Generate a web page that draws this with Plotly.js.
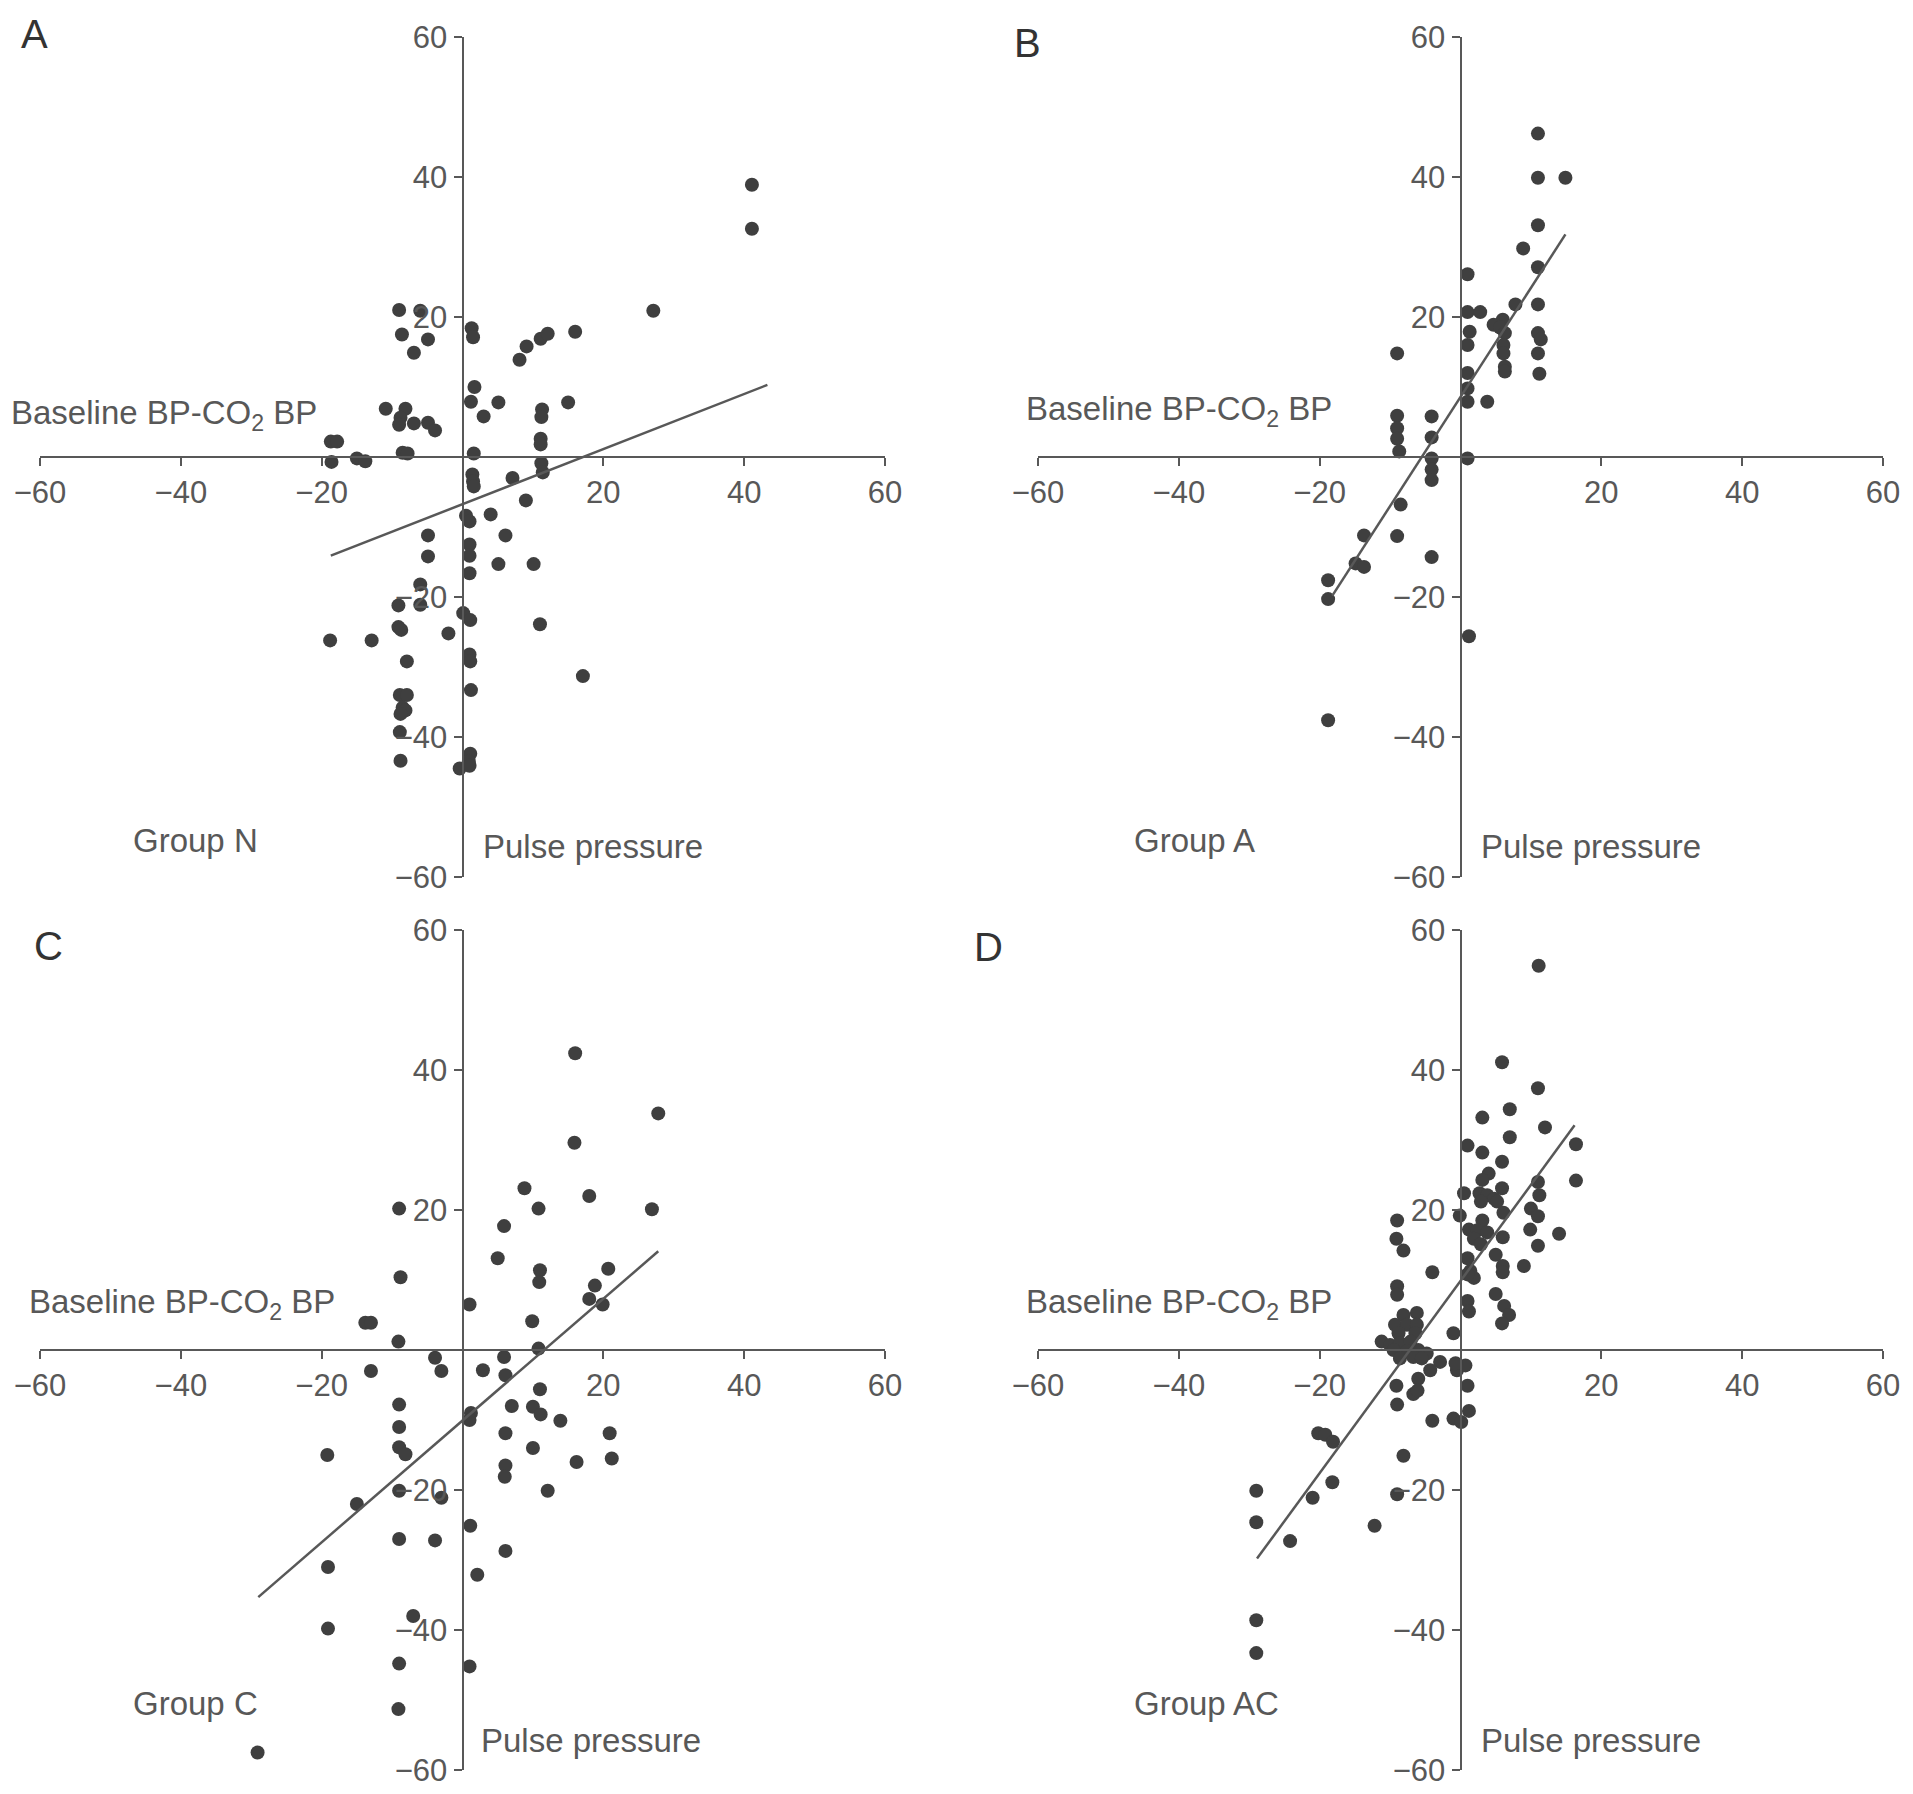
<!DOCTYPE html>
<html>
<head>
<meta charset="utf-8">
<script src="https://cdn.plot.ly/plotly-3.0.1.min.js"></script>
<style>body{margin:0;background:#fff}</style>
</head>
<body>
<div id="chart" style="width:1913px;height:1794px"></div>
<script>
// Group N (A)
var aX = [41.1, 41.1, 27.1, -9.0, -6.0, -8.6, -4.9, -6.9, 1.3, 1.5, 8.1, 9.1, 11.1, 12.1, 16.0, 1.7, 1.2, 5.1, 3.0, 15.0, 11.3, 11.2, 11.1, 11.1, -10.9, -8.1, -8.8, -9.0, -6.9, -4.9, -3.9, -18.7, -17.8, -18.6, -15.0, -13.8, -8.5, -7.8, 1.6, 11.2, 11.4, 1.4, 1.5, 1.6, 7.1, 9.0, 4.0, 0.5, 1.0, 6.1, -4.9, 1.0, 1.0, -4.9, 5.1, 10.1, 1.0, -6.0, -6.0, -9.1, 0.1, 1.1, -9.1, -8.7, -2.0, 11.0, -18.8, -12.9, 1.0, 1.1, -7.9, 17.1, 1.2, -8.9, -7.9, -8.5, -8.1, -8.8, -8.9, 1.1, 0.9, -8.8, -0.4, 1.0];
var aY = [38.9, 32.6, 20.9, 21.0, 20.9, 17.5, 16.8, 14.9, 18.4, 17.1, 13.9, 15.8, 16.9, 17.6, 17.9, 10.0, 7.9, 7.8, 5.8, 7.8, 6.8, 5.7, 2.6, 1.8, 6.9, 6.9, 5.6, 4.6, 4.8, 4.9, 3.8, 2.2, 2.2, -0.7, -0.2, -0.6, 0.6, 0.5, 0.5, -0.9, -2.2, -2.5, -3.5, -4.2, -3.0, -6.2, -8.2, -8.4, -9.2, -11.2, -11.2, -12.5, -14.1, -14.2, -15.3, -15.3, -16.6, -18.2, -21.1, -21.2, -22.3, -23.3, -24.3, -24.7, -25.2, -23.9, -26.2, -26.2, -28.2, -29.2, -29.2, -31.3, -33.3, -34.0, -34.0, -35.8, -36.2, -36.7, -39.3, -42.4, -43.5, -43.4, -44.5, -44.1];
var fitAX = [-18.7, 43.3];
var fitAY = [-14.1, 10.3];

// Group A (B)
var bX = [11.0, 11.0, 14.9, 11.0, 8.9, 11.0, 1.0, 7.8, 11.0, 1.0, 2.8, 4.7, 6.0, 5.6, 6.3, 1.3, 1.0, 11.0, 11.4, 6.1, 6.1, 11.0, -9.0, 6.3, 6.3, 1.0, 11.2, 1.0, 1.0, 3.8, -9.0, -4.1, -9.0, -9.0, -4.1, -8.7, 1.0, -4.1, -4.1, -4.1, -8.5, -13.7, -9.0, -4.1, -14.9, -13.7, -18.8, -18.8, 1.2, -18.8];
var bY = [46.2, 39.9, 39.9, 33.1, 29.8, 27.1, 26.1, 21.8, 21.8, 20.7, 20.7, 18.9, 19.6, 18.5, 17.7, 17.9, 16.0, 17.7, 16.8, 16.0, 14.8, 14.8, 14.8, 12.9, 12.2, 12.0, 11.9, 9.8, 7.9, 7.9, 5.9, 5.8, 4.1, 2.6, 2.8, 0.8, -0.2, -0.2, -1.8, -3.3, -6.8, -11.2, -11.3, -14.3, -15.2, -15.7, -17.6, -20.3, -25.6, -37.6];
var fitBX = [-18.2, 14.9];
var fitBY = [-19.8, 31.8];

// Group C (C)
var cX = [16.0, 27.8, 15.9, 8.8, 18.0, 10.8, -9.0, 26.9, 5.9, 5.0, 11.0, 10.9, 20.7, 18.8, -8.8, 18.0, 19.9, 1.0, 9.9, -13.8, -13.0, -9.1, 10.8, -3.9, 5.9, -3.0, -13.0, 2.9, 6.1, 11.0, -9.0, 7.0, 10.0, 11.1, 1.2, 1.0, 13.9, -9.0, 6.1, 20.9, -9.0, -8.1, -19.2, 10.0, 16.2, 21.2, 6.1, 6.0, 12.1, -9.0, -3.0, -15.0, 1.1, -9.0, -3.9, 6.1, -19.1, 2.1, -7.0, -19.1, -9.0, 1.0, -9.1, -29.1];
var cY = [42.4, 33.8, 29.6, 23.1, 22.0, 20.2, 20.2, 20.1, 17.7, 13.1, 11.4, 9.7, 11.6, 9.2, 10.4, 7.3, 6.5, 6.5, 4.1, 3.9, 3.9, 1.2, 0.2, -1.1, -1.0, -3.0, -3.0, -2.9, -3.6, -5.6, -7.8, -8.0, -8.1, -9.2, -9.0, -10.0, -10.1, -11.0, -11.9, -11.9, -13.9, -14.9, -15.0, -14.0, -16.0, -15.5, -16.5, -18.1, -20.1, -20.1, -21.1, -22.0, -25.1, -27.0, -27.2, -28.7, -31.0, -32.1, -38.0, -39.8, -44.8, -45.2, -51.3, -57.5];
var fitCX = [-29.0, 27.8];
var fitCY = [-35.3, 14.1];

// Group AC (D)
var dX = [11.1, 5.9, 11.0, 7.0, 3.1, 12.0, 7.0, 1.0, 16.4, 3.1, 5.9, 4.0, 3.1, 11.0, 16.4, 5.9, 0.5, 2.7, 3.8, 4.8, 11.2, 2.9, 5.2, 6.1, 10.0, 11.0, -0.1, 3.1, 1.2, 2.4, 3.8, 1.9, 2.9, 6.0, 9.9, 14.0, 11.0, 5.0, 1.0, 6.0, 6.0, 9.0, 1.4, 1.9, 1.0, -9.0, -9.1, -8.1, -4.0, -9.0, -9.0, 5.0, 1.0, 1.2, 6.2, 6.9, 5.9, -8.1, -6.2, -9.3, -7.6, -6.2, -8.8, -6.4, -1.0, -11.2, -10.0, -8.6, -7.1, -9.5, -7.6, -6.0, -4.8, -8.6, -6.7, -5.5, -2.9, -4.3, -0.5, 0.7, -0.7, -6.0, 1.0, -9.1, -6.7, -6.1, -9.0, 1.2, -4.0, -1.0, 0.1, -20.2, -19.2, -18.1, -8.1, -18.2, -21.0, -9.0, -29.0, -29.0, -12.2, -24.2, -29.0, -29.0];
var dY = [54.9, 41.1, 37.4, 34.4, 33.2, 31.8, 30.4, 29.2, 29.4, 28.2, 26.9, 25.2, 24.3, 24.0, 24.2, 23.1, 22.4, 22.4, 22.1, 21.6, 22.1, 21.2, 21.2, 19.6, 20.2, 19.1, 19.2, 18.5, 17.2, 17.1, 16.8, 15.9, 15.1, 16.1, 17.2, 16.6, 14.9, 13.6, 13.1, 12.0, 11.1, 12.0, 11.3, 10.3, 10.8, 18.5, 15.9, 14.2, 11.1, 9.1, 7.9, 8.0, 7.0, 5.5, 6.3, 5.0, 3.8, 5.0, 5.3, 3.6, 3.6, 3.6, 2.4, 2.4, 2.4, 1.2, 0.7, 1.0, 1.2, 0.0, -0.2, 0.0, -0.5, -1.2, -1.0, -1.2, -1.7, -2.9, -2.9, -2.2, -1.9, -4.1, -5.1, -5.1, -6.3, -5.8, -7.8, -8.7, -10.1, -9.8, -10.3, -11.9, -12.1, -13.1, -15.1, -18.9, -21.1, -20.6, -20.1, -24.6, -25.1, -27.3, -38.6, -43.3];
var fitDX = [-28.9, 16.2];
var fitDY = [-29.8, 32.1];

var tickVals = [-60, -40, -20, 20, 40, 60];
var panelLetters = ['A', 'B', 'C', 'D'];
var groupNames = ['Group N', 'Group A', 'Group C', 'Group AC'];
var yLabel = 'Baseline BP-CO<sub>2</sub> BP';
var xLabel = 'Pulse pressure';

var W = 1913, H = 1794;
function px(x) { return x / W; }
function py(y) { return 1 - y / H; }

var FONT = 'Liberation Sans, Arial, Helvetica, sans-serif';
var GREY = '#585858';
var DOT = '#3f3f3f';

// pixel boxes of each panel's plotting area: [left, right, top, bottom]
var boxes = [
    [40, 885, 37, 877],
    [1038, 1883, 37, 877],
    [40, 885, 930, 1770],
    [1038, 1883, 930, 1770]
];

var series = [
    [aX, aY, fitAX, fitAY],
    [bX, bY, fitBX, fitBY],
    [cX, cY, fitCX, fitCY],
    [dX, dY, fitDX, fitDY]
];

var traces = [];
var layout = {
    width: W,
    height: H,
    margin: {l: 0, r: 0, t: 0, b: 0},
    paper_bgcolor: '#ffffff',
    plot_bgcolor: 'rgba(0,0,0,0)',
    showlegend: false,
    font: {family: FONT, color: GREY},
    annotations: []
};

function axisBase(range) {
    return {
        range: range,
        anchor: 'free',
        tickvals: tickVals,
        showline: true,
        linecolor: GREY,
        linewidth: 2,
        ticks: 'outside',
        ticklen: 8,
        tickwidth: 2,
        tickcolor: GREY,
        showgrid: false,
        zeroline: false,
        fixedrange: true,
        tickfont: {family: FONT, size: 31, color: GREY}
    };
}

for (var i = 0; i < 4; i++) {
    var b = boxes[i];
    var sfx = i === 0 ? '' : String(i + 1);
    var xd = [px(b[0]), px(b[1])];
    var yd = [py(b[3]), py(b[2])];

    var xa = axisBase([-60, 60]);
    xa.domain = xd;
    xa.position = (yd[0] + yd[1]) / 2;
    var ya = axisBase([-60, 60]);
    ya.domain = yd;
    ya.position = (xd[0] + xd[1]) / 2;
    layout['xaxis' + sfx] = xa;
    layout['yaxis' + sfx] = ya;

    var s = series[i];
    traces.push({
        x: s[0], y: s[1],
        xaxis: 'x' + sfx, yaxis: 'y' + sfx,
        type: 'scatter', mode: 'markers',
        marker: {color: DOT, size: 14},
        cliponaxis: false,
        hoverinfo: 'skip'
    });
    traces.push({
        x: s[2], y: s[3],
        xaxis: 'x' + sfx, yaxis: 'y' + sfx,
        type: 'scatter', mode: 'lines',
        line: {color: GREY, width: 2.5},
        hoverinfo: 'skip'
    });
}

// text positions in pixels: [x, y]
var letterPos = [[19, 34], [1012, 43], [32, 946], [972, 947]];
var yLabelPos = [[9, 415], [1024, 411], [27, 1304], [1024, 1304]];
var groupPos = [[131, 840], [1132, 840], [131, 1703], [1132, 1703]];
var xLabelPos = [[481, 847], [1479, 847], [479, 1740], [1479, 1740]];

function addText(text, pos, size, color) {
    layout.annotations.push({
        text: text,
        xref: 'paper', yref: 'paper',
        x: px(pos[0]), y: py(pos[1]),
        xanchor: 'left', yanchor: 'middle',
        showarrow: false,
        font: {family: FONT, size: size, color: color}
    });
}

for (var j = 0; j < 4; j++) {
    addText(panelLetters[j], letterPos[j], 40, '#333333');
    addText(yLabel, yLabelPos[j], 33, GREY);
    addText(groupNames[j], groupPos[j], 33, GREY);
    addText(xLabel, xLabelPos[j], 33, GREY);
}

Plotly.newPlot('chart', traces, layout, {staticPlot: true});
</script>
</body>
</html>
